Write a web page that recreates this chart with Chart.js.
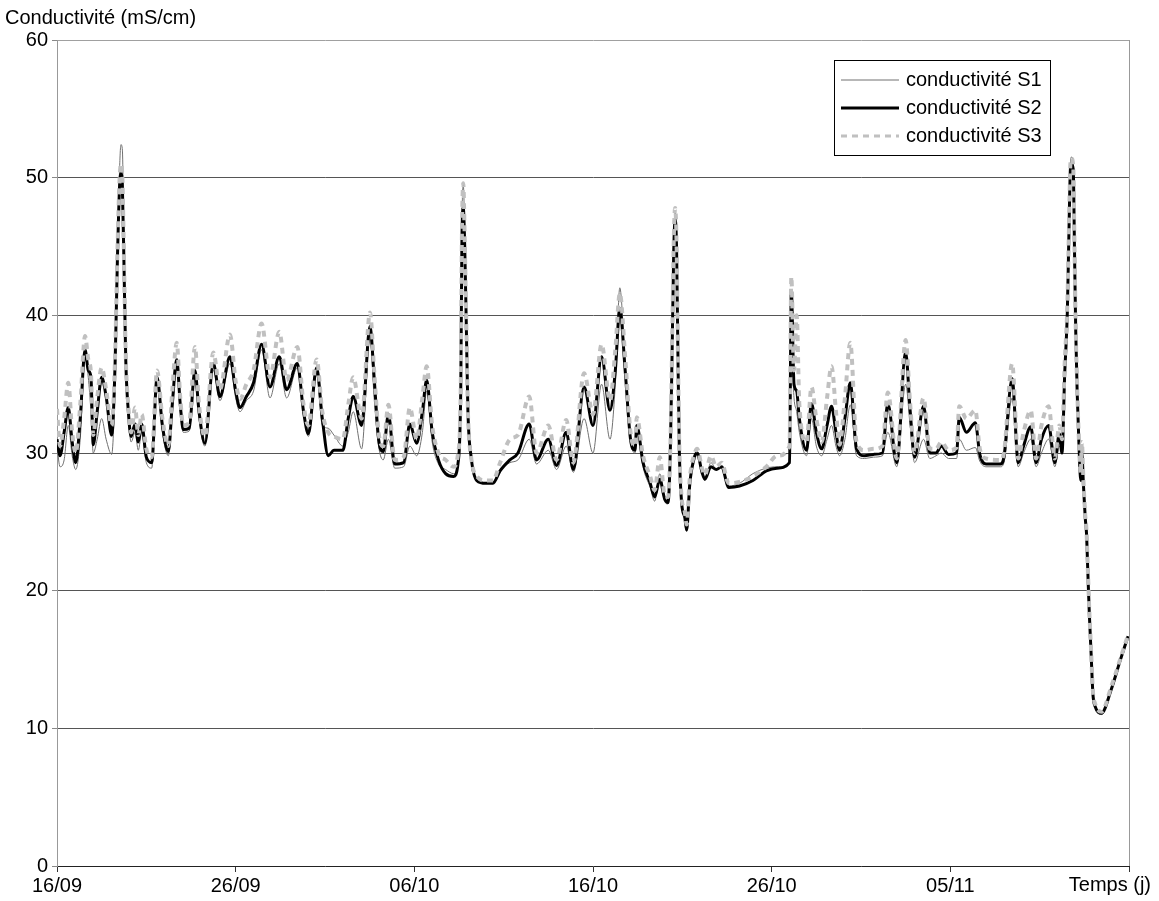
<!DOCTYPE html>
<html>
<head>
<meta charset="utf-8">
<script src="https://cdn.jsdelivr.net/npm/chart.js@4.4.1/dist/chart.umd.min.js"></script>
<style>
  html, body { margin: 0; padding: 0; background: #fff; }
  #wrap { width: 1159px; height: 901px; }
</style>
</head>
<body>
<div id="wrap"><canvas id="conductivite" width="1159" height="901"></canvas></div>
<script>
// temps en jours depuis le 16/09
const temps = [
  0.0, 0.17, 0.4, 0.63, 0.85, 1.05, 1.3, 1.57, 1.75, 1.9, 2.03, 2.25, 2.5, 2.75, 3.06, 3.25, 3.38, 3.5, 3.58, 3.66,
  3.75, 3.85, 4.0, 4.15, 4.37, 4.55, 4.74, 5.0, 5.3, 5.6, 5.9, 6.23, 6.45, 6.7, 6.9, 7.07, 7.4, 7.72, 7.95, 8.28,
  8.75, 9.12, 9.68, 10.0, 10.24, 10.6, 11.0, 11.45, 11.92, 12.44, 12.85, 13.45, 13.8, 14.07, 14.53, 14.85, 15.18, 15.5, 16.0, 16.3,
  16.58, 17.05, 17.52, 17.75, 18.0, 18.26, 18.55, 18.9, 19.4, 19.75, 20.13, 20.45, 20.69, 21.0, 21.35, 21.75, 22.2, 22.45, 22.6, 22.66,
  22.74, 22.82, 22.9, 23.0, 23.18, 23.5, 24.0, 24.4, 24.8, 25.35, 25.8, 26.43, 26.84, 27.5, 27.96, 28.5, 28.9, 29.5, 30.0, 30.48,
  30.95, 31.25, 31.5, 31.8, 32.1, 32.35, 32.45, 32.8, 33.2, 33.45, 33.74, 34.0, 34.2, 34.33, 34.43, 34.52, 34.6, 34.68, 34.75, 34.83,
  34.96, 35.14, 35.24, 35.42, 35.7, 35.83, 36.1, 36.26, 36.6, 36.9, 37.2, 37.6, 38.2, 38.95, 39.7, 40.3, 41.0, 41.1, 41.25, 41.4,
  41.55, 41.95, 42.23, 42.5, 42.8, 43.1, 43.35, 43.6, 43.8, 44.1, 44.4, 44.75, 45.2, 45.7, 46.2, 46.5, 47.0, 47.5, 47.75, 48.0,
  48.5, 48.85, 49.2, 49.5, 49.9, 50.35, 50.5, 50.9, 51.4, 51.65, 52.0, 52.8, 53.0, 53.46, 53.8, 54.1, 54.5, 54.8, 55.1, 55.5,
  55.85, 56.1, 56.25, 56.4, 56.55, 56.65, 56.72, 56.78, 56.88, 56.95, 57.02, 57.1, 57.2, 57.3, 57.36, 57.45, 57.55, 57.62, 57.7, 57.78,
  57.88, 57.98, 58.1, 58.46, 59.0, 59.5, 59.95
];

const condS1 = [
  30.5, 29.0, 29.5, 32.0, 29.8, 28.8, 31.0, 37.0, 35.5, 33.0, 30.0, 31.0, 32.5, 31.0, 29.9, 35.0, 43.5, 50.5, 52.4, 52.0,
  44.5, 36.5, 32.5, 30.8, 31.5, 30.2, 31.5, 29.3, 28.9, 35.0, 31.5, 29.8, 33.0, 36.3, 33.0, 31.5, 31.6, 36.0, 32.5, 30.5,
  36.0, 33.8, 36.5, 34.0, 33.0, 33.8, 34.5, 37.5, 34.0, 36.5, 34.0, 36.2, 32.8, 31.2, 35.8, 32.0, 31.8, 31.3, 30.5, 31.5,
  33.0, 30.3, 38.5, 34.0, 30.5, 29.5, 31.0, 28.9, 29.0, 30.5, 29.8, 31.5, 34.5, 30.8, 29.2, 28.8, 28.5, 29.5, 35.0, 46.0,
  49.5, 46.0, 40.5, 33.0, 29.5, 28.0, 27.8, 27.9, 28.7, 29.3, 29.5, 31.0, 29.2, 30.2, 28.8, 30.5, 28.6, 32.5, 30.0, 35.0,
  31.0, 35.0, 42.0, 36.5, 31.0, 30.0, 32.0, 29.0, 27.5, 26.5, 28.5, 26.5, 26.3, 30.5, 38.0, 45.5, 47.5, 45.0, 37.5, 30.5,
  26.4, 25.2, 24.3, 27.8, 29.8, 30.0, 28.6, 28.0, 29.3, 28.8, 29.0, 27.6, 27.8, 28.5, 28.9, 29.0, 29.3, 38.0, 34.0, 33.0,
  31.5, 29.8, 32.5, 30.5, 29.8, 31.0, 32.0, 30.5, 29.8, 31.0, 33.5, 29.8, 29.6, 29.7, 29.8, 31.5, 29.0, 35.0, 32.0, 29.3,
  31.0, 29.6, 29.8, 30.0, 29.6, 29.6, 31.0, 30.2, 30.4, 29.4, 29.0, 29.0, 29.3, 34.0, 29.0, 30.0, 31.0, 29.0, 30.0, 31.0,
  29.0, 30.5, 30.2, 35.5, 40.3, 47.0, 51.0, 51.5, 51.0, 45.0, 39.0, 34.5, 30.6, 28.0, 30.0, 27.7, 25.3, 24.2, 21.2, 18.3,
  15.4, 12.5, 11.6, 11.0, 12.8, 14.8, 16.6
];

const condS2 = [
  31.0, 29.8, 31.5, 33.3, 30.8, 29.3, 32.5, 37.5, 36.0, 35.5, 30.6, 33.0, 35.5, 34.1, 31.3, 36.4, 44.0, 49.3, 50.3, 49.3,
  43.6, 36.7, 32.9, 31.2, 32.1, 30.8, 32.1, 29.7, 29.3, 35.5, 32.0, 30.1, 33.5, 36.8, 33.5, 31.7, 31.8, 36.0, 33.0, 30.7,
  36.5, 34.1, 37.0, 34.5, 33.3, 34.1, 35.1, 37.9, 34.8, 37.0, 34.6, 36.5, 33.0, 31.4, 36.2, 32.5, 29.8, 30.2, 30.2, 32.5,
  34.1, 32.0, 39.2, 35.5, 31.0, 30.1, 32.8, 29.2, 29.3, 32.1, 30.7, 33.0, 35.3, 31.5, 29.5, 28.5, 28.3, 29.3, 34.8, 45.0,
  47.8, 45.0, 39.9, 33.0, 29.7, 28.0, 27.8, 27.8, 28.7, 29.5, 30.0, 32.1, 29.5, 31.0, 29.1, 31.5, 28.8, 34.8, 32.0, 37.0,
  33.1, 36.0, 40.5, 36.0, 31.0, 30.2, 32.0, 29.3, 27.8, 26.8, 28.1, 26.7, 26.4, 30.3, 37.5, 44.7, 47.0, 44.7, 37.5, 30.3,
  26.4, 25.3, 24.4, 27.8, 29.8, 30.0, 28.6, 28.1, 29.0, 28.8, 29.0, 27.5, 27.6, 28.0, 28.7, 28.9, 29.3, 41.8, 35.0, 34.5,
  32.5, 30.2, 33.6, 31.5, 30.3, 32.0, 33.4, 31.5, 30.2, 32.5, 35.1, 30.3, 29.8, 29.9, 30.0, 33.6, 29.3, 37.3, 33.1, 29.7,
  33.4, 30.0, 30.0, 30.5, 29.9, 30.0, 32.6, 31.5, 32.2, 29.9, 29.2, 29.2, 29.7, 35.4, 29.3, 30.5, 31.9, 29.3, 31.0, 32.0,
  29.3, 31.4, 30.0, 35.7, 40.3, 46.8, 50.6, 51.0, 50.6, 44.7, 38.8, 34.4, 30.6, 28.0, 30.0, 27.7, 25.3, 24.2, 21.2, 18.3,
  15.4, 12.5, 11.6, 11.1, 12.8, 14.9, 16.7
];

const condS3 = [
  33.2, 30.5, 32.5, 35.1, 31.5, 30.0, 33.5, 38.5, 36.8, 35.8, 31.3, 34.0, 36.2, 34.6, 32.0, 37.0, 44.5, 49.8, 51.0, 50.0,
  44.0, 37.0, 33.3, 31.5, 33.3, 31.3, 32.8, 30.3, 29.7, 36.0, 32.5, 30.5, 34.5, 38.0, 34.0, 32.0, 32.2, 37.7, 33.5, 31.2,
  37.3, 34.6, 38.6, 35.2, 33.9, 35.0, 36.0, 39.4, 35.5, 38.8, 35.3, 37.7, 33.5, 32.0, 36.8, 33.0, 31.5, 31.2, 31.0, 33.5,
  35.5, 32.5, 40.2, 36.0, 31.5, 30.5, 33.5, 29.5, 29.7, 33.3, 31.0, 34.0, 36.3, 32.0, 30.0, 29.5, 29.0, 30.0, 35.0, 45.5,
  49.6, 45.5, 40.0, 33.0, 29.7, 28.3, 28.0, 28.0, 29.3, 31.0, 31.3, 34.1, 30.0, 32.0, 29.5, 32.4, 29.3, 35.8, 32.8, 37.9,
  33.8, 37.5, 41.6, 37.0, 31.5, 30.5, 32.6, 29.8, 28.3, 27.3, 29.7, 27.0, 26.8, 30.5, 38.0, 45.5, 47.8, 45.0, 37.5, 30.5,
  26.8, 25.7, 24.8, 28.2, 30.0, 30.3, 28.9, 28.4, 29.8, 29.0, 29.3, 27.8, 27.9, 28.3, 29.0, 29.8, 30.5, 42.8, 36.0, 40.0,
  33.5, 30.8, 34.8, 32.5, 30.8, 34.0, 36.3, 33.0, 30.6, 34.0, 38.0, 30.8, 30.2, 30.3, 30.5, 34.4, 29.6, 38.2, 33.6, 30.0,
  34.0, 30.3, 30.3, 30.8, 30.2, 30.4, 33.4, 32.5, 33.1, 30.3, 29.6, 29.5, 30.0, 36.5, 29.6, 31.5, 33.1, 29.6, 32.0, 33.4,
  29.6, 32.0, 31.0, 36.5, 40.8, 47.0, 51.0, 51.4, 50.8, 45.0, 39.0, 34.8, 30.8, 28.5, 30.8, 28.0, 25.5, 24.4, 21.4, 18.5,
  15.6, 12.7, 11.8, 11.2, 13.0, 15.0, 16.8
];

const nomsSeries = ['conductivité S1', 'conductivité S2', 'conductivité S3'];
const xTickLabels = ['16/09', '26/09', '06/10', '16/10', '26/10', '05/11', 'Temps (j)'];
const titreY = 'Conductivité (mS/cm)';

const police = '"Liberation Sans", Arial, sans-serif';

function points(valeurs) {
    return temps.map((t, i) => ({x: t, y: valeurs[i]}));
}

const styles = [
    {color: '#707070', width: 1, dash: []},
    {color: '#000000', width: 3, dash: []},
    {color: '#c0c0c0', width: 4, dash: [6, 5]}
];

const decor = {
    id: 'decor',
    afterDraw(chart) {
        const {ctx, chartArea: {top, bottom, right}} = chart;
        ctx.save();
        // bord droit de la zone de tracé
        ctx.strokeStyle = '#999';
        ctx.lineWidth = 1;
        ctx.beginPath();
        ctx.moveTo(right + 0.5, top);
        ctx.lineTo(right + 0.5, bottom);
        ctx.stroke();

        ctx.fillStyle = '#000';
        ctx.font = '20px ' + police;
        ctx.textBaseline = 'middle';
        ctx.textAlign = 'left';
        ctx.fillText(titreY, 5, 18);
        ctx.textAlign = 'right';
        ctx.fillText(xTickLabels[xTickLabels.length - 1], 1151, 885);

        // légende
        ctx.fillStyle = '#fff';
        ctx.fillRect(834, 60, 216, 95);
        ctx.strokeStyle = '#000';
        ctx.lineWidth = 1;
        ctx.strokeRect(834.5, 60.5, 216, 95);
        ctx.textAlign = 'left';
        for (let i = 0; i < nomsSeries.length; i++) {
            const y = 80 + i * 28;
            ctx.strokeStyle = styles[i].color;
            ctx.lineWidth = i == 2 ? 3 : styles[i].width;
            ctx.setLineDash(styles[i].dash);
            ctx.beginPath();
            ctx.moveTo(841, y);
            ctx.lineTo(899, y);
            ctx.stroke();
            ctx.setLineDash([]);
            ctx.fillStyle = '#000';
            ctx.fillText(nomsSeries[i], 906, y);
        }
        ctx.restore();
    }
};

const series = [condS1, condS2, condS3];
const ctx = document.getElementById('conductivite').getContext('2d');
const myChart = new Chart(ctx, {
    type: 'line',
    data: {
        datasets: series.map((s, i) => ({
            label: nomsSeries[i],
            data: points(s),
            borderColor: styles[i].color,
            borderWidth: styles[i].width,
            borderDash: styles[i].dash,
            pointRadius: 0,
            cubicInterpolationMode: 'monotone',
            fill: false,
            order: 3 - i
        }))
    },
    options: {
        responsive: false,
        animation: false,
        layout: {padding: {top: 40, right: 30, left: 0, bottom: 0}},
        scales: {
            x: {
                type: 'linear',
                min: 0,
                max: 60,
                afterFit(scale) { scale.height = 35; },
                ticks: {
                    stepSize: 10,
                    maxRotation: 0,
                    autoSkip: false,
                    color: '#000',
                    padding: 2,
                    font: {family: police, size: 20},
                    callback: (v, i) => i < xTickLabels.length - 1 ? xTickLabels[i] : ''
                },
                grid: {drawOnChartArea: false, drawTicks: true, tickLength: 6, tickColor: '#333'},
                border: {color: '#222'}
            },
            y: {
                min: 0,
                max: 60,
                afterFit(scale) { scale.width = 57; },
                ticks: {
                    stepSize: 10,
                    color: '#000',
                    padding: 4,
                    font: {family: police, size: 20}
                },
                grid: {
                    color: c => c.tick.value === 60 ? '#a0a0a0' : (c.tick.value === 0 ? 'rgba(0,0,0,0)' : '#555'),
                    tickColor: '#888',
                    tickLength: 5
                },
                border: {color: '#999'}
            }
        },
        plugins: {
            legend: {display: false},
            tooltip: {enabled: false}
        }
    },
    plugins: [decor]
});
</script>
</body>
</html>
